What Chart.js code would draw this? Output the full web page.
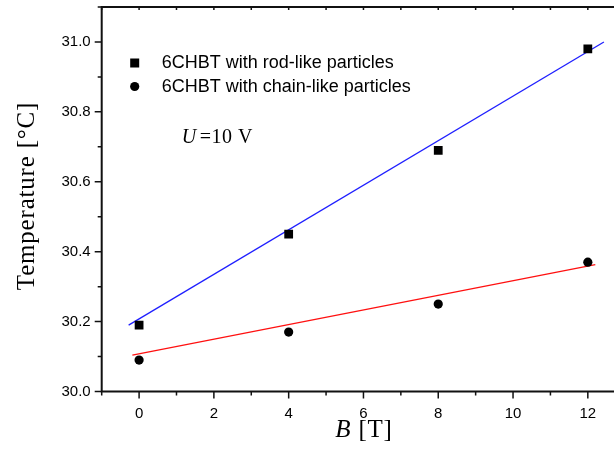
<!DOCTYPE html>
<html><head><meta charset="utf-8">
<script src="https://cdn.jsdelivr.net/npm/chart.js@4/dist/chart.umd.min.js"></script>
<style>html,body{margin:0;padding:0;background:#fff;overflow:hidden}#wrap{width:614px;height:457px;position:relative}canvas{display:block}</style>
</head><body><div id="wrap"><canvas id="c" width="614" height="457"></canvas></div>
<script>
const fieldB = [0, 4, 8, 12];
const tempRod = [30.19, 30.45, 30.69, 30.98];
const tempChain = [30.09, 30.17, 30.25, 30.37];
const fitRodB = [-0.28, 12.43];
const fitRodT = [30.19, 31.0];
const fitChainB = [-0.18, 12.2];
const fitChainT = [30.104, 30.363];
const xTickLabels = [0, 2, 4, 6, 8, 10, 12];
const yTickLabels = [30.0, 30.2, 30.4, 30.6, 30.8, 31.0];
const seriesNames = ['6CHBT with rod-like particles', '6CHBT with chain-like particles'];
const xTitleItalic = 'B';
const xTitleRest = ' [T]';
const yTitle = 'Temperature [\u00B0C]';
const annotItalic = 'U';
const annotRest = '=10 V';

const toPts = (xs, ys) => xs.map((x, i) => ({x: x, y: ys[i]}));
const SANS = '"Liberation Sans", Arial, sans-serif';
const SERIF = '"Liberation Serif", "Times New Roman", serif';

const decor = {
  id: 'decor',
  afterDraw(chart) {
    const ctx = chart.ctx, a = chart.chartArea;
    const xs = chart.scales.x, ys = chart.scales.y;
    ctx.save();
    ctx.strokeStyle = '#111';
    ctx.fillStyle = '#000';
    // axis lines
    ctx.lineWidth = 2;
    ctx.beginPath();
    ctx.moveTo(a.left, a.top - 1); ctx.lineTo(a.left, a.bottom + 1);
    ctx.moveTo(a.left - 1, a.bottom); ctx.lineTo(a.right, a.bottom);
    ctx.moveTo(a.left - 1, a.top); ctx.lineTo(a.right, a.top);
    ctx.stroke();
    // ticks
    ctx.lineWidth = 1.5;
    ctx.beginPath();
    for (let v = -1; v <= 13; v++) {
      const px = xs.getPixelForValue(v);
      if (px < a.left - 0.5 || px > a.right + 0.5) continue;
      const major = v % 2 === 0;
      ctx.moveTo(px, a.bottom); ctx.lineTo(px, a.bottom + (major ? 7 : 4));
      ctx.moveTo(px, a.top); ctx.lineTo(px, a.top + 3);
    }
    for (let k = 0; k <= 11; k++) {
      const v = 30 + k * 0.1;
      const py = ys.getPixelForValue(v);
      const major = k % 2 === 0;
      ctx.moveTo(a.left, py); ctx.lineTo(a.left - (major ? 7 : 4), py);
    }
    ctx.stroke();
    const setLS = s => { if ('letterSpacing' in ctx) ctx.letterSpacing = s; };
    // y title
    ctx.save();
    ctx.translate(27, 196);
    ctx.rotate(-Math.PI / 2);
    ctx.font = '25px ' + SERIF;
    setLS('0.8px');
    ctx.textAlign = 'center';
    ctx.textBaseline = 'middle';
    ctx.fillText(yTitle, 0, 0);
    ctx.restore();
    // x title
    setLS('0.8px');
    ctx.textBaseline = 'alphabetic';
    ctx.textAlign = 'left';
    ctx.font = 'italic 25px ' + SERIF;
    const w1 = ctx.measureText(xTitleItalic).width;
    ctx.font = '25px ' + SERIF;
    const w2 = ctx.measureText(xTitleRest).width;
    const cx = 364, by = 437;
    let sx = cx - (w1 + w2) / 2;
    ctx.font = 'italic 25px ' + SERIF;
    ctx.fillText(xTitleItalic, sx, by);
    ctx.font = '25px ' + SERIF;
    ctx.fillText(xTitleRest, sx + w1, by);
    // annotation
    setLS('0.5px');
    ctx.font = 'italic 20px ' + SERIF;
    ctx.fillText(annotItalic, a.left + 80, 143);
    const wu = ctx.measureText(annotItalic).width;
    ctx.font = '20px ' + SERIF;
    ctx.fillText(annotRest, a.left + 80 + wu + 3, 143);
    setLS('0px');
    // legend
    ctx.font = '18px ' + SANS;
    ctx.textBaseline = 'middle';
    const lx = a.left + 33, tx = a.left + 60;
    ctx.fillRect(lx - 4.5, 63 - 4.5, 9, 9);
    ctx.fillText(seriesNames[0], tx, 63.5);
    ctx.beginPath(); ctx.arc(lx, 86.5, 4.6, 0, Math.PI * 2); ctx.fill();
    ctx.fillText(seriesNames[1], tx, 87);
    ctx.restore();
  }
};

const noPad = s => { s.paddingTop = 0; s.paddingBottom = 0; s.paddingLeft = 0; s.paddingRight = 0; };

new Chart(document.getElementById('c'), {
  type: 'scatter',
  data: {
    datasets: [
      {label: seriesNames[0], data: toPts(fieldB, tempRod), pointStyle: 'rect', pointRadius: 6.2, pointHoverRadius: 6.2, backgroundColor: '#000', borderColor: '#000', borderWidth: 0},
      {label: seriesNames[1], data: toPts(fieldB, tempChain), pointStyle: 'circle', pointRadius: 4.6, pointHoverRadius: 4.6, backgroundColor: '#000', borderColor: '#000', borderWidth: 0},
      {label: 'fit rod', data: toPts(fitRodB, fitRodT), showLine: true, pointRadius: 0, borderColor: '#1f1fff', borderWidth: 1.3, fill: false},
      {label: 'fit chain', data: toPts(fitChainB, fitChainT), showLine: true, pointRadius: 0, borderColor: '#ff1010', borderWidth: 1.3, fill: false}
    ]
  },
  options: {
    responsive: false,
    animation: false,
    devicePixelRatio: 1,
    layout: {autoPadding: false, padding: {top: 7, right: 0, left: 0, bottom: 0}},
    plugins: {legend: {display: false}, tooltip: {enabled: false}},
    scales: {
      x: {
        type: 'linear', min: -1, max: 12.7,
        grid: {display: false, drawTicks: false},
        border: {display: false},
        afterBuildTicks: s => { s.ticks = xTickLabels.map(v => ({value: v})); },
        afterFit: s => { s.height = 65.5; noPad(s); },
        ticks: {padding: 13.5, color: '#000', font: {family: SANS, size: 15}, maxRotation: 0, callback: v => String(v)}
      },
      y: {
        type: 'linear', min: 30.0, max: 31.1,
        grid: {display: false, drawTicks: false},
        border: {display: false},
        afterBuildTicks: s => { s.ticks = yTickLabels.map(v => ({value: v})); },
        afterFit: s => { s.width = 101.7; noPad(s); },
        ticks: {padding: 11, color: '#000', font: {family: SANS, size: 15}, callback: v => v.toFixed(1)}
      }
    }
  },
  plugins: [decor]
});
</script></body></html>
